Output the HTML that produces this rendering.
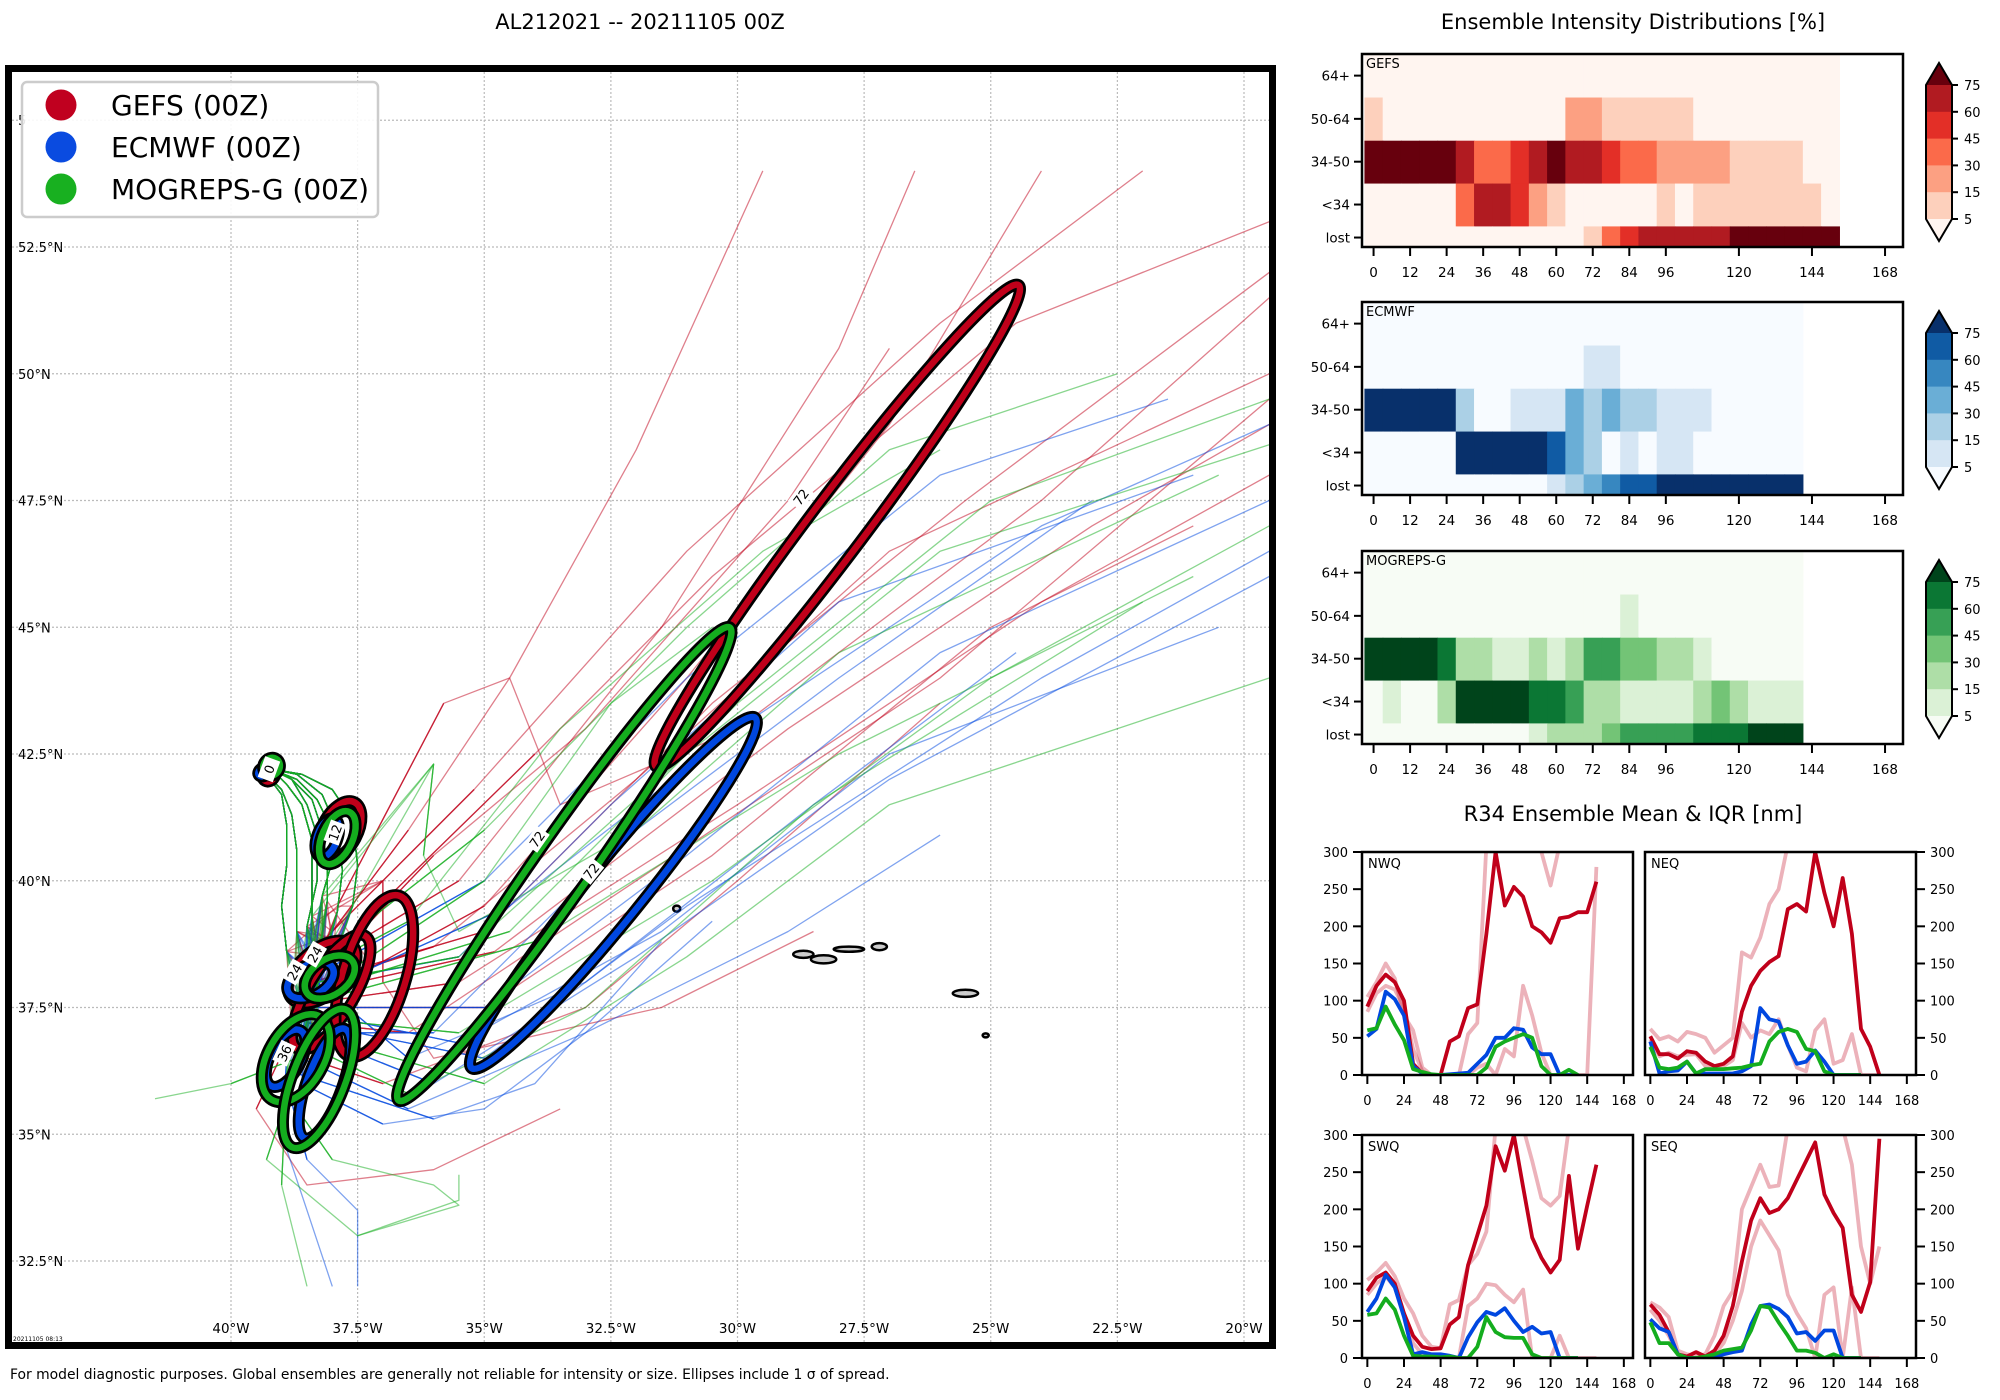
<!DOCTYPE html>
<html><head><meta charset="utf-8"><style>
html,body{margin:0;padding:0;background:#fff;}
svg{display:block;font-family:"DejaVu Sans","Liberation Sans",sans-serif;}
</style></head><body>
<svg id="fig" width="2000" height="1400" viewBox="0 0 2000 1400" xmlns="http://www.w3.org/2000/svg">
<text x="640" y="29" font-size="21" text-anchor="middle">AL212021 -- 20211105 00Z</text>
<text x="1633" y="29" font-size="21" text-anchor="middle">Ensemble Intensity Distributions [%]</text>
<text x="1633" y="821" font-size="21" text-anchor="middle">R34 Ensemble Mean &amp; IQR [nm]</text>
<text x="10" y="1379" font-size="13.9">For model diagnostic purposes. Global ensembles are generally not reliable for intensity or size. Ellipses include 1 σ of spread.</text>
<defs><clipPath id="mapclip"><rect x="12" y="72" width="1257" height="1270"/></clipPath></defs>
<g id="map"></g>
<g id="heat"></g>
<g id="r34"></g>
</svg>
<script>
// ---------------- MAP DATA ----------------
const latTicks=[32.5,35,37.5,40,42.5,45,47.5,50,52.5,55];
const lonTicks=[40,37.5,35,32.5,30,27.5,25,22.5,20];
const initPaths=[
 [39.2,42.2,38.8,42.0,38.4,41.6,38.2,41.0,38.1,40.3,38.1,39.6],
 [39.2,42.2,38.7,42.1,38.2,41.7,37.9,41.0,37.8,40.2,37.9,39.4],
 [39.2,42.2,38.9,41.9,38.6,41.5,38.4,40.8,38.4,40.1,38.4,39.3],
 [39.3,42.1,39.0,41.8,38.8,41.3,38.7,40.6,38.7,39.8,38.7,39.0],
 [39.2,42.2,38.6,42.1,38.0,41.8,37.6,41.2,37.5,40.3,37.6,39.5],
 [39.2,42.2,38.8,42.0,38.5,41.5,38.3,40.9,38.3,40.0,38.5,39.1],
 [39.3,42.1,39.0,41.7,38.9,41.1,38.9,40.3,39.0,39.5,38.9,38.6],
 [39.2,42.2,38.7,42.0,38.3,41.6,38.0,41.0,38.0,40.4,38.2,39.7]
];
const gefsTracks=[
 [37.2,38.3,35.0,39.5,31.0,44.0,27.0,49.0,24.0,54.0],
 [38.0,38.5,35.5,40.0,31.5,45.0,28.0,50.5,26.5,54.0],
 [38.2,38.0,36.0,38.7,32.0,42.0,27.0,46.5,19.5,50.0],
 [38.3,37.6,35.5,38.0,30.0,41.5,24.0,45.5,19.5,48.0],
 [38.5,37.2,36.5,37.0,32.0,40.0,26.0,44.0,19.5,49.5],
 [38.5,36.5,37.0,36.0,33.0,37.5,30.0,40.0,26.0,43.5],
 [38.8,37.0,39.5,35.5,38.5,34.0,36.0,34.3,33.5,35.5],
 [38.0,39.0,36.5,41.0,34.5,44.0,32.0,48.5,29.5,54.0],
 [38.0,38.6,34.0,42.5,30.5,46.0,24.5,51.0,19.5,53.0],
 [37.9,39.5,35.8,43.5,34.5,44.0,33.5,41.5,30.0,43.0,24.0,47.5,19.5,51.5],
 [37.0,40.0,37.0,38.0,36.0,36.5,31.5,37.5,28.5,39.0],
 [38.4,38.0,35.0,39.0,30.5,43.5,25.5,47.5,19.5,52.0],
 [38.6,37.5,35.0,37.5,30.5,40.5,25.0,45.0,21.0,47.0],
 [38.2,38.2,36.0,40.5,33.0,43.0,29.0,47.5,27.0,50.5],
 [38.1,38.9,35.2,41.8,31.0,46.5,26.0,51.0,22.0,54.0],
 [38.4,37.8,34.8,38.6,29.0,43.0,23.0,47.0,19.5,49.0]
];
const ecmwfTracks=[
 [38.3,38.0,36.5,36.5,33.0,38.0,28.5,41.5,24.5,44.5],
 [38.5,37.0,36.0,36.0,32.0,38.5,27.0,42.0,19.5,46.0],
 [38.4,37.5,35.0,37.5,31.0,40.5,26.0,44.5,19.5,47.5],
 [38.6,36.5,36.5,35.5,33.0,37.0,29.0,39.0,26.0,40.9],
 [38.6,36.0,37.0,35.2,35.0,35.5,33.0,37.0,30.5,39.2],
 [38.3,37.8,34.5,39.5,30.0,43.0,24.0,47.0,19.5,49.0],
 [38.9,36.5,39.0,35.0,38.5,33.5,38.0,32.0],
 [38.2,38.2,35.0,40.0,31.0,44.0,26.0,48.0,21.5,49.5],
 [38.5,37.2,35.0,36.5,31.0,39.5,24.0,44.0,19.5,46.5],
 [38.7,36.2,36.0,35.3,34.0,36.0,31.5,38.8],
 [38.5,37.0,36.0,37.0,32.0,41.0,28.0,44.0,23.0,47.5],
 [38.9,36.0,38.5,34.5,37.5,33.5,37.5,32.0],
 [38.4,37.4,35.5,36.8,31.5,39.0,27.0,42.5,20.5,45.0],
 [38.2,38.0,35.5,38.5,32.5,41.5,28.0,45.5,21.0,48.0]
];
const mogTracks=[
 [38.3,38.0,35.5,38.5,31.0,42.5,26.0,46.5,19.5,48.6],
 [38.5,37.3,35.5,37.0,30.5,40.0,25.0,44.0,19.5,47.0],
 [38.2,38.5,35.0,41.0,31.0,45.0,27.0,48.5,22.5,50.0],
 [38.4,37.8,34.5,39.0,30.0,43.5,25.0,47.5,19.5,49.5],
 [38.7,36.5,40.0,36.0,41.5,35.7],
 [38.8,36.0,39.3,34.5,37.5,33.0,35.5,33.7,35.5,34.2],
 [38.9,36.2,39.0,34.0,38.5,32.0],
 [38.6,36.8,36.5,35.8,33.0,37.5,28.5,41.5,22.0,45.5],
 [38.2,38.3,36.5,39.2,33.5,43.0,29.5,46.5,26.0,48.5],
 [38.5,37.0,35.0,36.0,31.0,38.5,27.0,41.5,19.5,44.0],
 [38.9,35.8,38.0,34.5,36.0,34.0,35.5,33.6,37.5,33.0],
 [38.3,37.8,35.0,40.0,32.5,43.5,30.5,45.0],
 [38.4,37.6,34.0,38.8,28.0,42.5,21.0,46.0],
 [36.0,42.3,36.2,40.5,35.5,39.0,32.0,41.0,28.0,44.5,20.5,48.0]
];
// ellipses: [hour, lonW, lat, semiMajorDeg, semiMinorDeg, angleDeg]
const gefsEllipses=[[0,39.25,42.1,0.15,0.12,60],[12,37.85,41.0,0.62,0.35,62],[24,38.2,38.2,0.8,0.45,40],[36,38.02,37.8,1.3,0.45,59],[48,37.17,38.12,1.66,0.62,73],[72,28.03,47.0,5.95,0.55,53]];
const ecmwfEllipses=[[0,39.35,42.15,0.12,0.08,30],[12,38.1,40.85,0.4,0.2,70],[24,38.43,38.04,0.5,0.3,30],[36,38.92,36.5,0.62,0.3,62],[48,38.15,36.0,1.15,0.35,70],[72,32.45,39.76,4.45,0.55,51]];
const mogEllipses=[[0,39.2,42.25,0.18,0.16,60],[12,37.9,40.85,0.56,0.3,65],[24,38.05,38.1,0.55,0.35,35],[36,38.72,36.5,0.95,0.55,60],[48,38.26,36.1,1.46,0.52,69],[72,33.42,40.33,5.7,0.55,55]];
const ellipseLabels=[["72",28.75,47.57,53],["72",33.96,40.82,55],["72",32.89,40.19,51],["12",37.95,40.95,70],["24",38.75,38.2,60],["24",38.35,38.55,60],["36",38.95,36.6,65],["0",39.25,42.2,70]];
const islands=[[28.7,38.55,0.2,0.07],[28.3,38.45,0.25,0.08],[27.8,38.65,0.3,0.05],[27.2,38.7,0.15,0.07],[25.5,37.78,0.25,0.07],[25.1,36.95,0.06,0.04],[31.2,39.45,0.07,0.06]];

// ---------------- HEATMAP DATA (level index per 6h column) ----------------
const intensityRows=["64+","50-64","34-50","<34","lost"];
const hmTicks=[0,12,24,36,48,60,72,84,96,120,144,168];
const cbTicks=[75,60,45,30,15,5];
const gefsLevels=[
 [0,0,0,0,0,0,0,0,0,0,0,0,0,0,0,0,0,0,0,0,0,0,0,0,0,0],
 [1,0,0,0,0,0,0,0,0,0,0,2,2,1,1,1,1,1,0,0,0,0,0,0,0,0],
 [6,6,6,6,6,5,3,3,4,5,6,5,5,4,3,3,2,2,2,2,1,1,1,1,0,0],
 [0,0,0,0,0,3,5,5,4,2,1,0,0,0,0,0,1,0,1,1,1,1,1,1,1,0],
 [0,0,0,0,0,0,0,0,0,0,0,0,1,3,4,5,5,5,5,5,6,6,6,6,6,6]];
const ecmwfLevels=[
 [0,0,0,0,0,0,0,0,0,0,0,0,0,0,0,0,0,0,0,0,0,0,0,0],
 [0,0,0,0,0,0,0,0,0,0,0,0,1,1,0,0,0,0,0,0,0,0,0,0],
 [6,6,6,6,6,2,0,0,1,1,1,3,2,3,2,2,1,1,1,0,0,0,0,0],
 [0,0,0,0,0,6,6,6,6,6,5,3,2,0,1,0,1,1,0,0,0,0,0,0],
 [0,0,0,0,0,0,0,0,0,0,1,2,3,4,5,5,6,6,6,6,6,6,6,6]];
const mogLevels=[
 [0,0,0,0,0,0,0,0,0,0,0,0,0,0,0,0,0,0,0,0,0,0,0,0],
 [0,0,0,0,0,0,0,0,0,0,0,0,0,0,1,0,0,0,0,0,0,0,0,0],
 [6,6,6,6,5,2,2,1,1,2,1,2,4,4,3,3,2,2,1,0,0,0,0,0],
 [0,1,0,0,2,6,6,6,6,5,5,4,2,2,1,1,1,1,2,3,2,1,1,1],
 [0,0,0,0,0,0,0,0,0,1,2,2,2,3,4,4,4,4,5,5,5,6,6,6]];

// ---------------- R34 DATA (nm, every 6h from 0) ----------------
const r34Ticks=[0,50,100,150,200,250,300];
const r34XTicks=[0,24,48,72,96,120,144,168];
const nwqGefs=[92,120,135,125,100,15,2,0,0,45,52,90,95,190,300,228,253,240,200,192,178,211,213,219,219,260];
const nwqGefsHi=[105,125,150,130,80,60,10,0,0,0,0,55,70,310,310,310,310,310,310,300,255,310,310,310,310,310];
const nwqGefsLo=[85,110,120,115,90,35,5,0,0,0,0,0,10,15,0,35,25,120,80,30,0,0,0,0,0,280];
const nwqEcmwf=[52,62,112,102,80,12,2,0,0,1,2,3,15,27,50,50,63,61,37,28,28,0,0,0];
const nwqMog=[60,63,92,68,47,8,4,1,0,0,0,0,0,10,38,45,50,55,50,12,0,0,7,0];
const neqGefs=[52,28,28,22,32,30,18,12,15,25,85,120,140,152,160,223,230,220,300,245,200,265,190,62,38,0];
const neqGefsHi=[62,48,52,45,58,55,50,30,40,50,165,158,185,230,250,310,310,310,310,310,310,310,310,310,310,310];
const neqGefsLo=[48,25,30,25,27,28,12,8,12,20,70,50,60,55,75,40,10,5,60,75,15,20,55,0,0,0];
const neqEcmwf=[45,2,5,6,18,2,2,2,2,2,5,12,90,75,72,40,15,18,33,18,0,0,0,0];
const neqMog=[38,10,8,10,18,2,8,8,8,9,10,13,15,45,58,62,58,35,32,5,0,0,0,0];
const swqGefs=[90,108,115,100,60,30,15,12,13,45,55,125,165,205,285,252,300,230,162,135,115,132,245,147,205,260];
const swqGefsHi=[105,115,128,110,80,60,30,15,13,72,78,125,140,170,310,310,310,310,265,215,205,218,310,310,310,310];
const swqGefsLo=[85,100,110,95,60,20,5,0,0,0,0,70,80,100,98,85,75,92,0,0,0,30,0,0,0,0];
const swqEcmwf=[62,80,112,95,55,5,8,5,5,3,0,28,48,62,58,67,50,35,42,33,35,0,0,0];
const swqMog=[58,60,80,65,30,3,2,2,1,2,0,0,15,55,35,28,27,27,5,0,0,0,0,0];
const seqGefs=[72,58,35,5,2,8,2,10,30,70,130,185,215,195,200,215,240,265,290,220,195,175,85,62,102,295];
const seqGefsHi=[75,68,55,10,5,3,5,30,70,90,200,230,260,230,232,310,310,310,310,310,310,310,260,150,100,150];
const seqGefsLo=[65,50,30,5,0,0,0,5,20,50,90,150,185,165,145,85,60,40,0,85,95,0,95,0,0,0];
const seqEcmwf=[52,40,35,5,0,0,0,0,5,8,10,45,70,72,66,55,33,35,23,37,37,0,0,0];
const seqMog=[48,20,20,5,0,0,2,5,10,12,14,37,70,68,48,30,10,10,7,0,5,0,0,0];

// ---------------- RENDER ----------------
const NS="http://www.w3.org/2000/svg";
function mk(tag,attrs,parent){const e=document.createElementNS(NS,tag);for(const k in attrs)e.setAttribute(k,attrs[k]);parent.appendChild(e);return e;}
const RED="#c0001a",BLUE="#0047e0",GREEN="#14ad1e";

const map=document.getElementById('map');
const mx=w=>231+(40-w)*50.65;
const my=l=>247+(52.5-l)*50.7;
const inner=mk('g',{'clip-path':'url(#mapclip)'},map);


lonTicks.forEach(w=>{const l=mk('line',{x1:mx(w),x2:mx(w),y1:72,y2:1342,stroke:'#bbb','stroke-width':1.2,'stroke-dasharray':'2,2'},inner);
 
 });
latTicks.forEach(t=>{const l=mk('line',{x1:12,x2:1269,y1:my(t),y2:my(t),stroke:'#bbb','stroke-width':1.2,'stroke-dasharray':'2,2'},inner);
 
 });
islands.forEach(s=>{const e=mk('ellipse',{cx:mx(s[0]),cy:my(s[1]),rx:s[2]*50.65,ry:s[3]*50.7,fill:'#ccc',stroke:'#000','stroke-width':2.5},inner);
 
 });
function drawTracks(tracks,color,name,off){
 tracks.forEach((t,i)=>{[0,3,5].forEach((s,j)=>{
  const pts=initPaths[(i+s+off)%8].concat(j===0?t:t.slice(0,4));let d='';
  for(let k=0;k<pts.length;k+=2)d+=(k?'L':'M')+mx(pts[k]).toFixed(1)+','+my(pts[k+1]).toFixed(1);
  const p=mk('path',{d:d,fill:'none',stroke:color,'stroke-width':1.3,'stroke-opacity':0.5,'stroke-linejoin':'round'},inner);
  
  
 });});
}
drawTracks(gefsTracks,RED,'gefs-track',0);
drawTracks(ecmwfTracks,BLUE,'ecmwf-track',1);
drawTracks(mogTracks,GREEN,'mogreps-track',2);
function drawEll(list,color,name){
 list.forEach(e=>{const cx=mx(e[1]),cy=my(e[2]),rx=e[3]*50.65,ry=e[4]*50.7;
  const tr='rotate('+(-e[5])+' '+cx+' '+cy+')';
  const a=mk('ellipse',{cx:cx,cy:cy,rx:rx,ry:ry,transform:tr,fill:'none',stroke:'#000','stroke-width':12},inner);
  
  
  const b=mk('ellipse',{cx:cx,cy:cy,rx:rx,ry:ry,transform:tr,fill:'none',stroke:color,'stroke-width':6.5},inner);
  
  
 });
}
drawEll(gefsEllipses,RED,'gefs-ellipse');
drawEll(ecmwfEllipses,BLUE,'ecmwf-ellipse');
drawEll(mogEllipses,GREEN,'mogreps-ellipse');
ellipseLabels.forEach(l=>{const x=mx(l[1]),y=my(l[2]);
 const g=mk('g',{transform:'translate('+x+','+y+') rotate('+(-l[3])+')'},inner);
 
 
 mk('rect',{x:-11,y:-8,width:22,height:16,fill:'#fff'},g);
 const t=mk('text',{x:0,y:5,'font-size':13,'text-anchor':'middle',fill:'#000'},g);t.textContent=l[0];
});
const frame=mk('rect',{x:8.5,y:68.5,width:1264,height:1277,fill:'none',stroke:'#000','stroke-width':7},map);


latTicks.forEach(t=>{if(t>53)return;const e=mk('text',{x:18,y:my(t)+5,'font-size':13},map);e.textContent=t+'°N';
 
 });
lonTicks.forEach(w=>{const e=mk('text',{x:mx(w),y:1333,'font-size':13.5,'text-anchor':'middle'},map);e.textContent=w+'°W';
 
 });
const stamp=mk('text',{x:13,y:1341,'font-size':6},map);stamp.textContent='20211105 08:13';


const fifty=mk('text',{x:18,y:125,'font-size':13},map);fifty.textContent='5';


const lg=mk('g',{},map);


mk('rect',{x:22,y:82,width:356,height:135,rx:5,fill:'#fff','fill-opacity':0.9,stroke:'#ccc','stroke-width':2.5},lg);
[["GEFS (00Z)","#c0001f"],["ECMWF (00Z)","#0a4be0"],["MOGREPS-G (00Z)","#18b020"]].forEach((it,i)=>{
 const y=105+i*42;
 const c=mk('circle',{cx:61,cy:y,r:15.5,fill:it[1]},lg);
 
 
 const t=mk('text',{x:111,y:y+10,'font-size':28},lg);t.textContent=it[0];
 
 
});

const heat=document.getElementById('heat');
const hx0=1362,hx1=1903,hxlo=-3.8,hxhi=173.9;
const hX=h=>hx0+(h-hxlo)/(hxhi-hxlo)*(hx1-hx0);
const rowFr=[0,0.2255,0.4492,0.6713,0.8933,1];
const tickFr=[0.112,0.336,0.558,0.780,0.951];
const palettes={
 gefs:["#fff5f0","#fdd0bc","#fca082","#fb6a4a","#e32f27","#b11b21","#67000d"],
 ecmwf:["#f7fbff","#d6e6f4","#abd0e6","#6aaed6","#3787c0","#105ba4","#08306b"],
 mog:["#f7fcf5","#dbf1d6","#aedea7","#73c476","#37a055","#0b7734","#00441b"]};
function heatPanel(levels,pal,top,label,name){
 const g=mk('g',{},heat);
 
 
 const H=193;
 levels.forEach((row,r)=>{row.forEach((lv,k)=>{
  const x0=hX(6*k-3),x1=hX(6*k+3);const y0=top+rowFr[r]*H,y1=top+rowFr[r+1]*H;
  const c=mk('rect',{x:x0,y:y0,width:x1-x0+0.6,height:y1-y0+0.6,fill:pal[lv]},g);
  
  
 });});
 mk('rect',{x:hx0,y:top,width:hx1-hx0,height:H,fill:'none',stroke:'#000','stroke-width':2.5},g);
 const t=mk('text',{x:hx0+4,y:top+14,'font-size':13},g);t.textContent=label;
 
 
 intensityRows.forEach((rw,i)=>{const y=top+tickFr[i]*H;
  mk('line',{x1:hx0-8,x2:hx0,y1:y,y2:y,stroke:'#000','stroke-width':2},g);
  const e=mk('text',{x:hx0-12,y:y+5,'font-size':13.5,'text-anchor':'end'},g);e.textContent=rw;
  
  });
 hmTicks.forEach(h=>{const x=hX(h);
  mk('line',{x1:x,x2:x,y1:top+H,y2:top+H+9,stroke:'#000','stroke-width':2},g);
  const e=mk('text',{x:x,y:top+H+30,'font-size':13.5,'text-anchor':'middle'},g);e.textContent=h;
  
  });
 const cb=mk('g',{},g);
 
 
 const cx0=1926,cw=26,y75=top+31,y5=top+165,bh=(y5-y75)/5;
 mk('path',{d:`M${cx0},${y75}L${cx0+cw/2},${y75-22}L${cx0+cw},${y75}Z`,fill:pal[6]},cb);
 for(let i=0;i<5;i++)mk('rect',{x:cx0,y:y75+i*bh,width:cw,height:bh+0.5,fill:pal[5-i]},cb);
 mk('path',{d:`M${cx0},${y5}L${cx0+cw/2},${y5+22}L${cx0+cw},${y5}Z`,fill:pal[0]},cb);
 mk('path',{d:`M${cx0},${y75}L${cx0+cw/2},${y75-22}L${cx0+cw},${y75}L${cx0+cw},${y5}L${cx0+cw/2},${y5+22}L${cx0},${y5}Z`,fill:'none',stroke:'#000','stroke-width':2},cb);
 cbTicks.forEach((v,i)=>{const y=y75+i*bh;
  mk('line',{x1:cx0+cw,x2:cx0+cw+6,y1:y,y2:y,stroke:'#000','stroke-width':2},cb);
  const e=mk('text',{x:cx0+cw+12,y:y+5,'font-size':13},cb);e.textContent=v;
  
  });
}
heatPanel(gefsLevels,palettes.gefs,54,'GEFS','gefs-heatmap');
heatPanel(ecmwfLevels,palettes.ecmwf,302,'ECMWF','ecmwf-heatmap');
heatPanel(mogLevels,palettes.mog,551,'MOGREPS-G','mogreps-heatmap');

const r34=document.getElementById('r34');
function r34Panel(x0,y0,label,right,series,name){
 const W=271,H=223,xlo=-3.5,xhi=174;
 const g=mk('g',{},r34);
 
 
 const X=h=>x0+(h-xlo)/(xhi-xlo)*W, Y=v=>y0+H-v/300*H;
 const cid='clip'+name;
 const cp=mk('clipPath',{id:cid},g);mk('rect',{x:x0,y:y0,width:W,height:H},cp);
 const pg=mk('g',{'clip-path':'url(#'+cid+')'},g);
 series.forEach(s=>{let d='';s.data.forEach((v,i)=>{d+=(i?'L':'M')+X(6*i).toFixed(1)+','+Y(v).toFixed(1);});
  const p=mk('path',{d:d,fill:'none',stroke:s.color,'stroke-width':3.8,'stroke-opacity':s.op,'stroke-linejoin':'round'},pg);
  
  });
 mk('rect',{x:x0,y:y0,width:W,height:H,fill:'none',stroke:'#000','stroke-width':2.5},g);
 const t=mk('text',{x:x0+6,y:y0+16,'font-size':13},g);t.textContent=label;
 
 
 r34Ticks.forEach(v=>{const y=Y(v);
  if(right){mk('line',{x1:x0+W,x2:x0+W+9,y1:y,y2:y,stroke:'#000','stroke-width':2},g);
   const e=mk('text',{x:x0+W+14,y:y+5,'font-size':13},g);e.textContent=v;
   
   }
  else{mk('line',{x1:x0-9,x2:x0,y1:y,y2:y,stroke:'#000','stroke-width':2},g);
   const e=mk('text',{x:x0-14,y:y+5,'font-size':13,'text-anchor':'end'},g);e.textContent=v;
   
   }
 });
 r34XTicks.forEach(h=>{const x=X(h);
  mk('line',{x1:x,x2:x,y1:y0+H,y2:y0+H+9,stroke:'#000','stroke-width':2},g);
  const e=mk('text',{x:x,y:y0+H+30,'font-size':13,'text-anchor':'middle'},g);e.textContent=h;
  
  });
}
function ser(hi,lo,gm,ec,mo){return[
 {data:hi,color:RED,op:0.3,name:'gefs-iqr-upper'},{data:lo,color:RED,op:0.3,name:'gefs-iqr-lower'},
 {data:gm,color:RED,op:1,name:'gefs-mean-line'},{data:ec,color:BLUE,op:1,name:'ecmwf-mean-line'},{data:mo,color:GREEN,op:1,name:'mogreps-mean-line'}];}
r34Panel(1362,852,'NWQ',false,ser(nwqGefsHi,nwqGefsLo,nwqGefs,nwqEcmwf,nwqMog),'nwq-panel');
r34Panel(1645,852,'NEQ',true,ser(neqGefsHi,neqGefsLo,neqGefs,neqEcmwf,neqMog),'neq-panel');
r34Panel(1362,1135,'SWQ',false,ser(swqGefsHi,swqGefsLo,swqGefs,swqEcmwf,swqMog),'swq-panel');
r34Panel(1645,1135,'SEQ',true,ser(seqGefsHi,seqGefsLo,seqGefs,seqEcmwf,seqMog),'seq-panel');
</script>
</body></html>
